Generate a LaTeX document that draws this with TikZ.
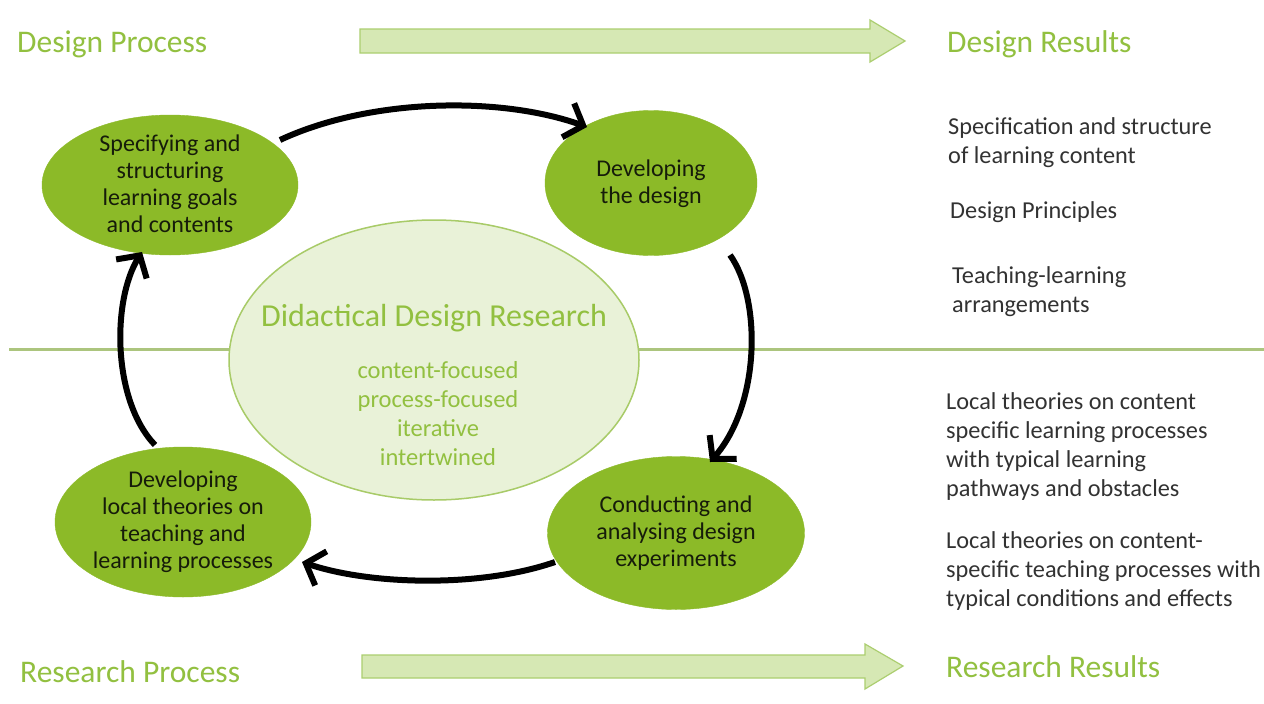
\documentclass[tikz,border=0pt]{standalone}
\usepackage{fontspec}
\setmainfont{Carlito}
\usetikzlibrary{arrows.meta,calc,shapes.geometric}
\definecolor{bubblegreen}{RGB}{140,186,40}
\definecolor{palefill}{RGB}{233,242,216}
\definecolor{paleedge}{RGB}{168,203,104}
\definecolor{headgreen}{RGB}{146,192,64}
\definecolor{arrowfill}{RGB}{214,232,180}
\definecolor{arrowedge}{RGB}{172,206,112}
\definecolor{darktext}{RGB}{22,28,10}
\definecolor{graytext}{RGB}{50,50,50}
\tikzset{
  bubble/.style={ellipse, fill=bubblegreen, draw=bubblegreen, inner sep=0pt},
  btext/.style={align=center, text=darktext, font=\fontsize{24}{27}\selectfont, inner sep=0pt},
  heading/.style={anchor=west, text=headgreen, font=\fontsize{31.5}{36}\selectfont, inner sep=0pt},
  result/.style={anchor=west, align=left, text=graytext, font=\fontsize{24.3}{29}\selectfont, inner sep=0pt},
  cycle arrow/.style={line width=6pt, black, -{Straight Barb[length=16pt,width=36pt,line width=6pt]}},
  bigarrow/.style={fill=arrowfill, draw=arrowedge, line width=1.2pt, line join=miter},
}
\begin{document}
\begin{tikzpicture}[x=1pt,y=-1pt]
\useasboundingbox (0,0) rectangle (1264,704);
\fill[white] (0,0) rectangle (1264,704);

% headings
\node[heading] (dp) at (17,44) {Design Process};
\node[heading] (dr) at (947,44) {Design Results};
\node[heading] (rp) at (20,672) {Research Process};
\node[heading] (rr) at (946,667) {Research Results};

% big arrows
\draw[bigarrow] (360,29) -- (870,29) -- (870,20) -- (905,41) -- (870,62) -- (870,53) -- (360,53) -- cycle;
\draw[bigarrow] (362,655) -- (865,655) -- (865,644) -- (903,666) -- (865,689) -- (865,678) -- (362,678) -- cycle;

% separator line
\draw[paleedge!90!black!80, line width=3pt] (9,349) -- (1264,349);

% central ellipse
\node[ellipse, fill=palefill, draw=paleedge, line width=1.5pt, minimum width=410pt, minimum height=280pt, inner sep=0pt] (ddr) at (434,360) {};
\node[text=headgreen, font=\fontsize{32}{36}\selectfont, inner sep=0pt] (ddrt) at (434,318) {Didactical Design Research};
\node[align=center, text=headgreen, font=\fontsize{24.5}{29}\selectfont, inner sep=0pt] (ddrl) at (438,414) {content-focused\\process-focused\\iterative\\intertwined};

% bubbles
\node[bubble, minimum width=256pt, minimum height=140pt] (tl) at (170,185) {};
\node[btext] (tlt) at (170,184) {Specifying and\\structuring\\learning goals\\and contents};
\node[bubble, minimum width=212pt, minimum height=145pt] (tr) at (651,183) {};
\node[btext] (trt) at (651,184) {Developing\\the design};
\node[bubble, minimum width=256pt, minimum height=150pt] (bl) at (183,522) {};
\node[btext] (blt) at (183,522) {Developing\\local theories on\\teaching and\\learning processes};
\node[bubble, minimum width=257pt, minimum height=153pt] (br) at (676,533) {};
\node[btext] (brt) at (676,533) {Conducting and\\analysing design\\experiments};

% cycle arrows
\draw[cycle arrow] ($(tl.center)+(110,-45)$) .. controls (370,98) and (500,96) .. ($(tr.center)+(-64,-56)$);
\draw[cycle arrow] ($(tr.center)+(79,72)$) .. controls (762,300) and (760,405) .. ($(br.center)+(34,-71)$);
\draw[cycle arrow] ($(br.center)+(-121,29)$) .. controls (480,588) and (370,585) .. ($(bl.center)+(119,40)$);
\draw[cycle arrow] ($(bl.center)+(-28,-77)$) .. controls (112,400) and (112,300) .. ($(tl.center)+(-28,67)$);

% results
\node[result] (r1) at (948,142.5) {Specification and structure\\of learning content};
\node[result] (r2) at (950,212) {Design Principles};
\node[result] (r3) at (952,292) {Teaching-learning\\arrangements};
\node[result] (r4) at (946,447) {Local theories on content\\specific learning processes\\with typical learning\\pathways and obstacles};
\node[result] (r5) at (946,571.5) {Local theories on content-\\specific teaching processes with\\typical conditions and effects};
\end{tikzpicture}
\end{document}
